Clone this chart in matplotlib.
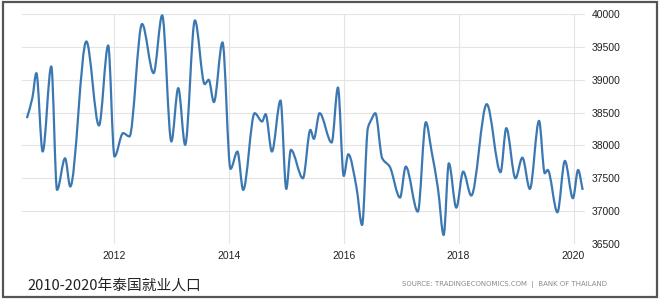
import numpy as np
import matplotlib
matplotlib.use("Agg")
import matplotlib.pyplot as plt
from matplotlib.patches import Rectangle, PathPatch
from matplotlib.path import Path

# employed persons in Thailand (thousands)
years = [2010.485, 2010.58, 2010.65, 2010.76, 2010.91, 2011.01, 2011.15, 2011.24,
         2011.52, 2011.74, 2011.90, 2012.01, 2012.16, 2012.27, 2012.49, 2012.69,
         2012.84, 2013.00, 2013.12, 2013.24, 2013.41, 2013.58, 2013.65, 2013.74,
         2013.89, 2014.03, 2014.15, 2014.25, 2014.45, 2014.58, 2014.64, 2014.75,
         2014.90, 2015.00, 2015.08, 2015.29, 2015.42, 2015.48, 2015.58, 2015.79,
         2015.90, 2016.00, 2016.08, 2016.22, 2016.32, 2016.42, 2016.48, 2016.55,
         2016.67, 2016.80, 2016.98, 2017.08, 2017.29, 2017.43, 2017.53, 2017.64,
         2017.74, 2017.83, 2017.96, 2018.08, 2018.22, 2018.49, 2018.73, 2018.83,
         2018.99, 2019.11, 2019.24, 2019.40, 2019.50, 2019.55, 2019.72, 2019.85,
         2019.99, 2020.08, 2020.16]
employed = [38415, 38720, 39100, 37907, 39202, 37323, 37805, 37374,
            39583, 38303, 39522, 37831, 38187, 38136, 39848, 39100,
            39980, 38060, 38872, 38009, 39903, 38933, 38999, 38659,
            39568, 37643, 37907, 37323, 38491, 38364, 38476, 37907,
            38684, 37338, 37933, 37500, 38237, 38100, 38491, 38044,
            38882, 37536, 37866, 37374, 36789, 38263, 38390, 38491,
            37805, 37678, 37206, 37678, 36992, 38354, 37907, 37348,
            36637, 37728, 37053, 37602, 37237, 38628, 37592, 38263,
            37500, 37815, 37338, 38374, 37576, 37627, 36982, 37765,
            37196, 37627, 37323]

xticks = [2012, 2014, 2016, 2018, 2020]
yticks = [36500, 37000, 37500, 38000, 38500, 39000, 39500, 40000]

title = "2010-2020年泰国就业人口"
source = "SOURCE: TRADINGECONOMICS.COM  |  BANK OF THAILAND"


def smooth_path(x, y):
    # monotone cubic (Fritsch-Carlson) tangents -> bezier segments
    x = np.asarray(x, float)
    y = np.asarray(y, float)
    h = np.diff(x)
    d = np.diff(y) / h
    m = np.zeros_like(y)
    m[0], m[-1] = d[0], d[-1]
    for i in range(1, len(y) - 1):
        if d[i - 1] * d[i] > 0:
            w1 = 2 * h[i] + h[i - 1]
            w2 = h[i] + 2 * h[i - 1]
            m[i] = (w1 + w2) / (w1 / d[i - 1] + w2 / d[i])
    verts = [(x[0], y[0])]
    codes = [Path.MOVETO]
    for i in range(len(h)):
        verts += [(x[i] + h[i] / 3, y[i] + m[i] * h[i] / 3),
                  (x[i + 1] - h[i] / 3, y[i + 1] - m[i + 1] * h[i] / 3),
                  (x[i + 1], y[i + 1])]
        codes += [Path.CURVE4] * 3
    return Path(verts, codes)


fig = plt.figure(figsize=(6.6, 3.01), dpi=100)
ax = fig.add_axes([22 / 660, 1 - 244 / 301, (585 - 22) / 660, 230 / 301])

ax.add_patch(PathPatch(smooth_path(years, employed), facecolor="none",
                       edgecolor="#3b78b2", lw=1.6, joinstyle="round"))

ax.set_xlim(2010.4, 2020.2)
ax.set_ylim(36500, 40000)
ax.set_xticks(xticks)
ax.set_xticklabels([str(t) for t in xticks])
ax.set_yticks(yticks)
ax.yaxis.tick_right()
ax.grid(True, color="#e4e4e4", lw=0.8)
ax.set_axisbelow(True)
ax.tick_params(length=0, labelsize=7.5, labelcolor="#222222")
ax.tick_params(axis="y", pad=5)
ax.tick_params(axis="x", pad=5)
for lab in ax.get_xticklabels() + ax.get_yticklabels():
    lab.set_family("Liberation Sans")
for s in ax.spines.values():
    s.set_visible(False)

fig.text(27 / 660, 1 - 286 / 301, title, family=["Noto Sans CJK SC", "DejaVu Sans"],
         fontsize=10.6, color="#222222", va="center", ha="left")
fig.text(607 / 660, 1 - 284 / 301, source, family="DejaVu Sans",
         fontsize=5, color="#8a8a8a", va="center", ha="right")

# outer frame
fig.patches.append(Rectangle((3 / 660, 4 / 301), 654 / 660, 295 / 301,
                             transform=fig.transFigure, fill=False,
                             edgecolor="#555555", lw=1.6))

fig.savefig("out.png", dpi=100)
